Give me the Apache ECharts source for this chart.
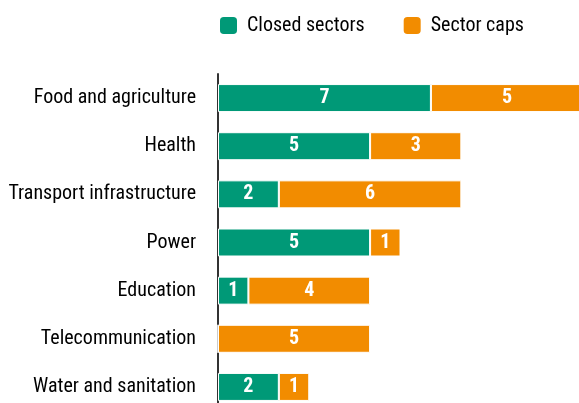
<!DOCTYPE html>
<html><head><meta charset="utf-8">
<script src="https://cdn.jsdelivr.net/npm/echarts@6/dist/echarts.min.js"></script>
<style>html,body{margin:0;padding:0;background:#fff}#c{width:579px;height:403px}</style>
</head><body><div id="c"></div>
<script>
const categories = ["Food and agriculture","Health","Transport infrastructure","Power","Education","Telecommunication","Water and sanitation"];
const closedSectors = [7,5,2,5,1,0,2];
const sectorCaps = [5,3,6,1,4,5,1];
const FONT = '"Liberation Sans Narrow","Roboto Condensed","Liberation Sans",sans-serif';
const chart = echarts.init(document.getElementById('c'), null, {renderer:'canvas'});
const lbl = {show:true, position:'inside', color:'#fff', fontFamily:FONT, fontWeight:'bold', fontSize:20,
  formatter: p => p.value ? p.value : ''};
chart.setOption({
  animation:false,
  legend:{left:218, top:15, padding:0, itemWidth:19, itemHeight:19, itemGap:37, icon:'roundRect',
    textStyle:{fontFamily:FONT, fontSize:20, color:'#000', padding:[0,0,0,4]},
    data:['Closed sectors','Sector caps']},
  grid:{left:218, top:74, width:365, height:337, containLabel:false, outerBoundsMode:'none'},
  xAxis:{type:'value', min:0, max:12, show:false},
  yAxis:{type:'category', data:categories, inverse:true,
    axisLine:{show:true, lineStyle:{color:'#333', width:2}},
    axisTick:{show:false},
    axisLabel:{fontFamily:FONT, fontSize:20, color:'#000', margin:22}},
  series:[
    {name:'Closed sectors', type:'bar', stack:'a', data:closedSectors, barWidth:28,
     itemStyle:{color:'#009977', borderColor:'#fff', borderWidth:1}, label:lbl},
    {name:'Sector caps', type:'bar', stack:'a', data:sectorCaps, barWidth:28,
     itemStyle:{color:'#F28C00', borderColor:'#fff', borderWidth:1}, label:lbl}
  ]
});
</script></body></html>
